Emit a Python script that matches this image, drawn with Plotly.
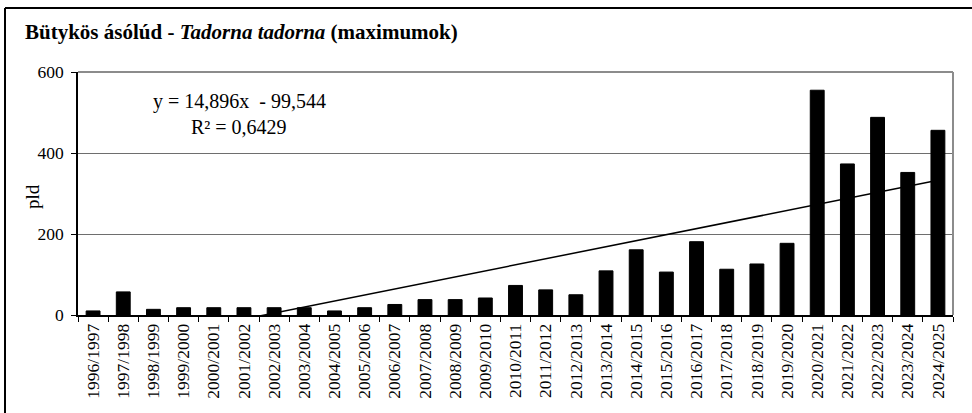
import plotly.graph_objects as go

# Seasons (winter counting periods) and maximum counts
seasons = [
    "1996/1997", "1997/1998", "1998/1999", "1999/2000", "2000/2001",
    "2001/2002", "2002/2003", "2003/2004", "2004/2005", "2005/2006",
    "2006/2007", "2007/2008", "2008/2009", "2009/2010", "2010/2011",
    "2011/2012", "2012/2013", "2013/2014", "2014/2015", "2015/2016",
    "2016/2017", "2017/2018", "2018/2019", "2019/2020", "2020/2021",
    "2021/2022", "2022/2023", "2023/2024", "2024/2025",
]
maximums = [
    10, 57, 14, 18, 18, 18, 18, 18, 10, 18,
    26, 38, 38, 42, 73, 62, 50, 109, 161, 106,
    181, 113, 126, 177, 555, 373, 488, 352, 456,
]

# Linear trend: y = slope * x + intercept, x = 1..n
slope = 14.896
intercept = -99.544
r_squared = 0.6429

y_ticks = [0, 200, 400, 600]

FONT = "Liberation Serif"

fig = go.Figure()

fig.add_trace(go.Bar(
    x=seasons,
    y=maximums,
    marker=dict(color="black", line=dict(color="black", width=1)),
    showlegend=False,
    hoverinfo="x+y",
))

n = len(seasons)
fig.add_trace(go.Scatter(
    x=[seasons[0], seasons[-1]],
    y=[slope * 1 + intercept, slope * n + intercept],
    mode="lines",
    line=dict(color="black", width=1.5),
    showlegend=False,
    hoverinfo="skip",
))

# plot area in pixels: left 78, right 953, top 72, bottom 315
L, R, T, B = 78, 953, 72, 315
W, H = 972, 413


def px(xpix):
    return (xpix - L) / (R - L)


def py(ypix):
    return (B - ypix) / (B - T)


fmt = lambda v: f"{v:,.3f}".replace(",", " ").replace(".", ",")

fig.add_annotation(
    x=px(239), y=py(101), xref="paper", yref="paper",
    text=f"y = {fmt(slope)}x  - {fmt(abs(intercept))}",
    showarrow=False, xanchor="center", yanchor="middle",
    font=dict(family=FONT, size=20, color="black"),
)
fig.add_annotation(
    x=px(239), y=py(127), xref="paper", yref="paper",
    text=f"R² = {str(r_squared).replace('.', ',')}",
    showarrow=False, xanchor="center", yanchor="middle",
    font=dict(family=FONT, size=20, color="black"),
)

# y axis title
fig.add_annotation(
    x=px(32), y=py(197), xref="paper", yref="paper",
    text="pld", textangle=-90,
    showarrow=False, xanchor="center", yanchor="middle",
    font=dict(family=FONT, size=19, color="black"),
)

# gray top and right edges of the plot area
fig.add_shape(type="line", xref="paper", yref="paper",
              x0=0, x1=1, y0=1, y1=1, line=dict(color="#8c8c8c", width=2))
fig.add_shape(type="line", xref="paper", yref="paper",
              x0=1, x1=1, y0=0, y1=1, line=dict(color="#8c8c8c", width=2))

# outer chart frame (top and left edges)
fig.add_shape(type="line", xref="paper", yref="paper",
              x0=px(5), x1=px(980), y0=py(8), y1=py(8),
              line=dict(color="black", width=2))
fig.add_shape(type="line", xref="paper", yref="paper",
              x0=px(5), x1=px(5), y0=py(8), y1=py(420),
              line=dict(color="black", width=2))

fig.update_layout(
    width=W, height=H,
    margin=dict(l=L, r=W - R, t=T, b=H - B),
    paper_bgcolor="white", plot_bgcolor="white",
    bargap=0.54,
    font=dict(family=FONT, color="black"),
    title=dict(
        text="<b>Bütykös ásólúd - <i>Tadorna tadorna</i> (maximumok)</b>",
        x=25 / W, xref="container", xanchor="left",
        y=1 - 32 / H, yref="container", yanchor="middle",
        font=dict(family=FONT, size=21, color="black"),
    ),
    xaxis=dict(
        type="category",
        tickangle=-90,
        tickson="boundaries",
        ticks="outside", ticklen=5, tickcolor="black", tickwidth=1,
        showline=True, linecolor="black", linewidth=1.5,
        showgrid=False,
        tickfont=dict(family=FONT, size=17.5, color="black"),
    ),
    yaxis=dict(
        range=[0, 600],
        tickvals=y_ticks,
        ticks="outside", ticklen=5, tickcolor="black", tickwidth=1,
        showline=True, linecolor="black", linewidth=1.5,
        showgrid=True, gridcolor="#6e6e6e", gridwidth=1,
        zeroline=False,
        ticklabelstandoff=4,
        tickfont=dict(family=FONT, size=17.5, color="black"),
    ),
)

fig.write_html("out.html")
